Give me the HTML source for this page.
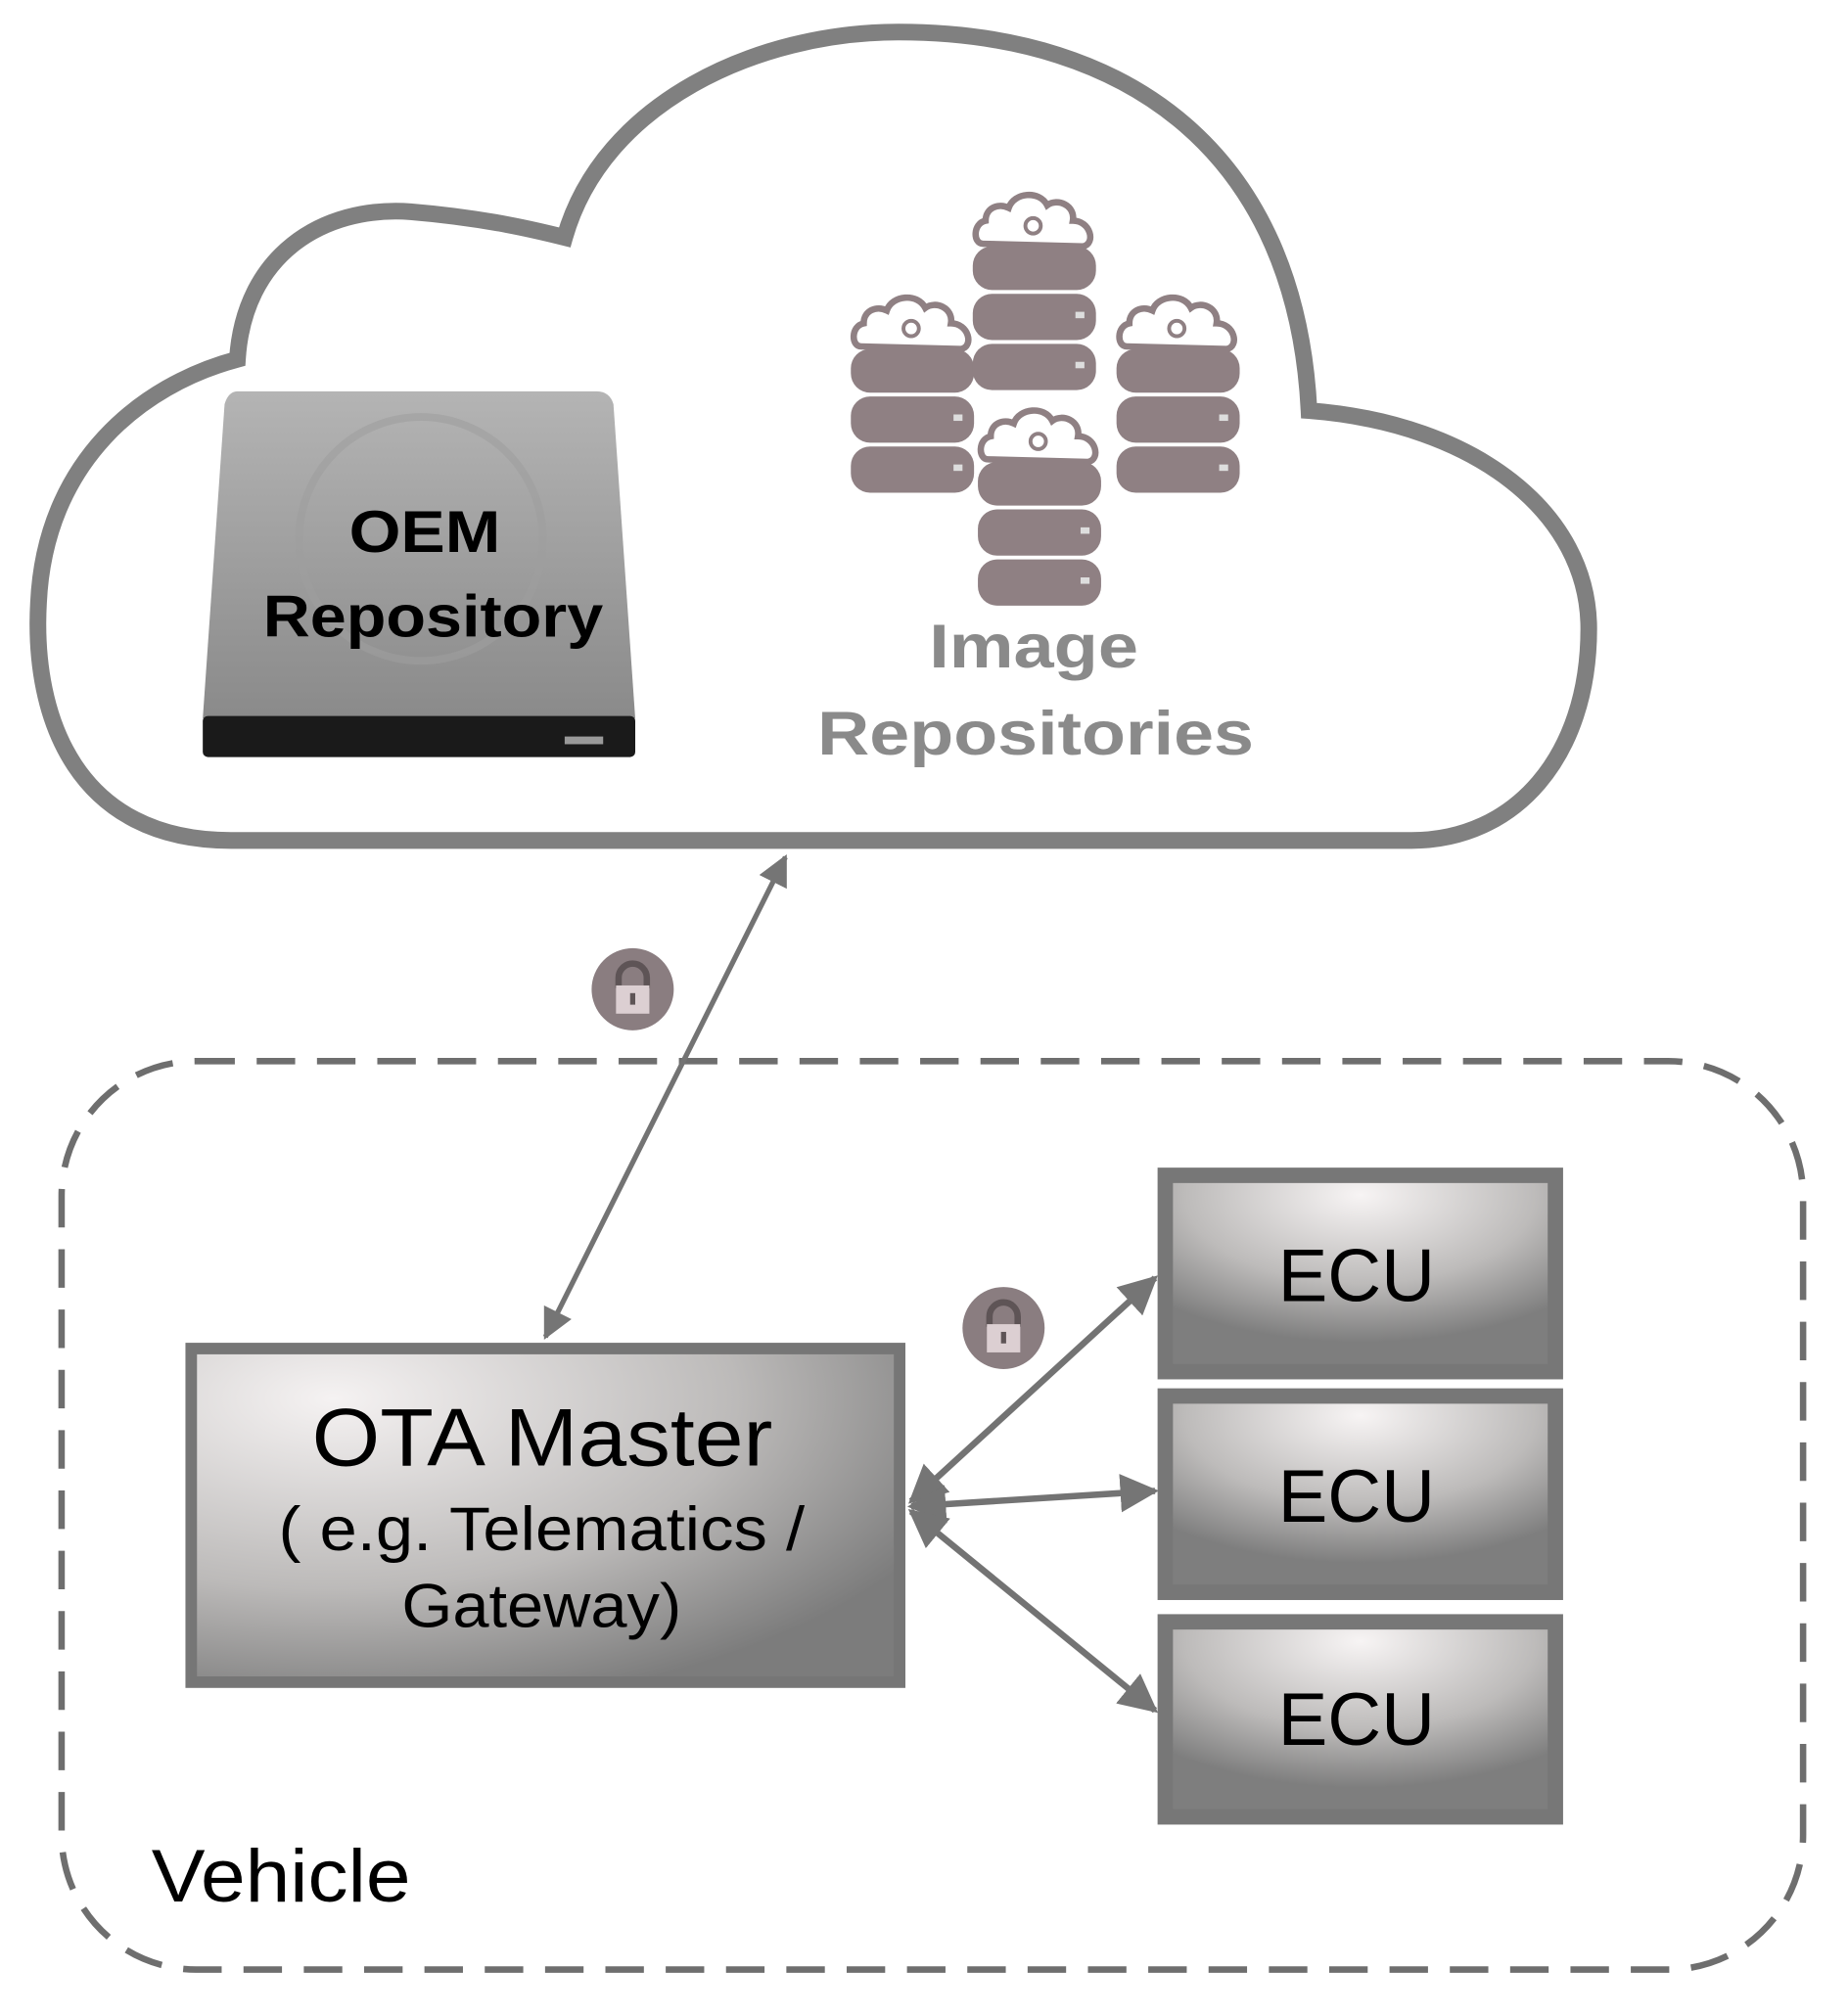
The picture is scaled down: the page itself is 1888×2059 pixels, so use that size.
<!DOCTYPE html>
<html><head><meta charset="utf-8"><style>
html,body{margin:0;padding:0;background:#fff;}
svg{display:block;}
text{font-family:"Liberation Sans",sans-serif;}
</style></head><body>
<svg width="1888" height="2059" viewBox="0 0 1440 1570.4" preserveAspectRatio="none" xmlns="http://www.w3.org/2000/svg">
<defs>
<radialGradient id="bx" cx="0.5" cy="0.1" r="0.75">
<stop offset="0" stop-color="#f7f4f4"/><stop offset="0.6" stop-color="#bdbbba"/><stop offset="1" stop-color="#7e7e7e"/>
</radialGradient>
<radialGradient id="ota" cx="0.2" cy="0.15" r="0.95">
<stop offset="0" stop-color="#f5f2f2"/><stop offset="0.6" stop-color="#bcbab9"/><stop offset="1" stop-color="#7c7c7c"/>
</radialGradient>
<linearGradient id="drv" x1="0" y1="0" x2="0" y2="1">
<stop offset="0" stop-color="#b4b4b4"/><stop offset="1" stop-color="#8a8a8a"/>
</linearGradient>
<marker id="ah" viewBox="0 0 10 10" refX="9" refY="5" markerWidth="6" markerHeight="6" orient="auto-start-reverse">
<path d="M0,0 L10,5 L0,10 z" fill="#757575"/>
</marker>
<g id="db">
<path d="M8,44 C0,44 0,28 10,26 C10,16 20,12 28,16 C32,4 52,2 58,14 C66,8 80,14 78,26 C92,26 96,44 86,46 Z" fill="#fff" stroke="#8f8083" stroke-width="5"/>
<circle cx="47" cy="30" r="6" fill="none" stroke="#8f8083" stroke-width="3"/>
<rect x="0" y="46" width="96" height="34" rx="15" fill="#8f8083"/>
<rect x="0" y="83" width="96" height="36" rx="15" fill="#8f8083"/>
<rect x="0" y="122" width="96" height="36" rx="15" fill="#8f8083"/>
<rect x="80" y="97" width="7" height="5" fill="#ddd"/>
<rect x="80" y="136" width="7" height="5" fill="#ddd"/>
</g>
</defs>
<path d="M180,655 C60,655 25,560 30,470 C35,360 110,300 185,280 C190,200 250,160 320,165 C380,170 420,180 440,185 C470,80 590,25 700,25 C880,25 1010,120 1020,320 C1150,330 1238,400 1238,490 C1238,590 1180,655 1100,655 Z" fill="#fff" stroke="#808080" stroke-width="13"/>
<path d="M185,305 L465,305 Q475,305 478,315 L495,560 L158,560 L175,315 Q178,305 185,305 Z" fill="url(#drv)"/>
<circle cx="328" cy="420" r="95" fill="none" stroke="#9e9e9e" stroke-width="6" opacity="0.6"/>
<rect x="158" y="558" width="337" height="32" rx="4" fill="#1a1a1a"/>
<rect x="440" y="574" width="30" height="6" fill="#999"/>
<text x="272" y="430" font-size="46" font-weight="bold" textLength="118" lengthAdjust="spacingAndGlyphs" fill="#000">OEM</text>
<text x="205" y="496" font-size="46" font-weight="bold" textLength="265" lengthAdjust="spacingAndGlyphs" fill="#000">Repository</text>
<use href="#db" x="663" y="226"/>
<use href="#db" x="870" y="226"/>
<use href="#db" x="758" y="146"/>
<use href="#db" x="762" y="314"/>
<text x="724" y="520" font-size="48" font-weight="bold" textLength="163" lengthAdjust="spacingAndGlyphs" fill="#8a8a8a">Image</text>
<text x="637" y="588" font-size="48" font-weight="bold" textLength="340" lengthAdjust="spacingAndGlyphs" fill="#8a8a8a">Repositories</text>
<rect x="48" y="827" width="1357" height="708" rx="105" fill="none" stroke="#6e6e6e" stroke-width="5" stroke-dasharray="30,17"/>
<line x1="425" y1="1042" x2="612" y2="668" stroke="#737373" stroke-width="4" marker-start="url(#ah)" marker-end="url(#ah)"/>
<g>
<circle cx="493" cy="771" r="32" fill="#8a7d80"/>
<path d="M482,770 v-8 a11,11 0 0 1 22,0 v8" fill="none" stroke="#5e5456" stroke-width="5"/>
<rect x="480" y="768" width="26" height="22" fill="#dccfd2"/>
<rect x="491" y="774" width="4" height="9" fill="#5e5456"/>
</g>
<g>
<circle cx="782" cy="1035" r="32" fill="#8a7d80"/>
<path d="M771,1034 v-8 a11,11 0 0 1 22,0 v8" fill="none" stroke="#5e5456" stroke-width="5"/>
<rect x="769" y="1032" width="26" height="22" fill="#dccfd2"/>
<rect x="780" y="1038" width="4" height="9" fill="#5e5456"/>
</g>
<rect x="149" y="1051" width="552" height="260" fill="url(#ota)" stroke="#767676" stroke-width="9"/>
<text x="243" y="1142" font-size="64" textLength="359" lengthAdjust="spacingAndGlyphs" fill="#000">OTA Master</text>
<text x="217" y="1208" font-size="48" textLength="410" lengthAdjust="spacingAndGlyphs" fill="#000">( e.g. Telematics /</text>
<text x="313" y="1268" font-size="48" textLength="218" lengthAdjust="spacingAndGlyphs" fill="#000">Gateway)</text>
<g stroke="#777" stroke-width="12">
<rect x="908" y="916" width="304" height="153" fill="url(#bx)"/>
<rect x="908" y="1088" width="304" height="153" fill="url(#bx)"/>
<rect x="908" y="1264" width="304" height="152" fill="url(#bx)"/>
</g>
<text x="1057" y="1014" font-size="58" text-anchor="middle" fill="#000">ECU</text>
<text x="1057" y="1186" font-size="58" text-anchor="middle" fill="#000">ECU</text>
<text x="1057" y="1360" font-size="58" text-anchor="middle" fill="#000">ECU</text>
<g stroke="#737373" stroke-width="5">
<line x1="710" y1="1170" x2="900" y2="996" marker-start="url(#ah)" marker-end="url(#ah)"/>
<line x1="710" y1="1174" x2="900" y2="1162" marker-start="url(#ah)" marker-end="url(#ah)"/>
<line x1="710" y1="1178" x2="900" y2="1333" marker-start="url(#ah)" marker-end="url(#ah)"/>
</g>
<text x="118" y="1482" font-size="58" textLength="202" lengthAdjust="spacingAndGlyphs" fill="#000">Vehicle</text>
</svg>
</body></html>
